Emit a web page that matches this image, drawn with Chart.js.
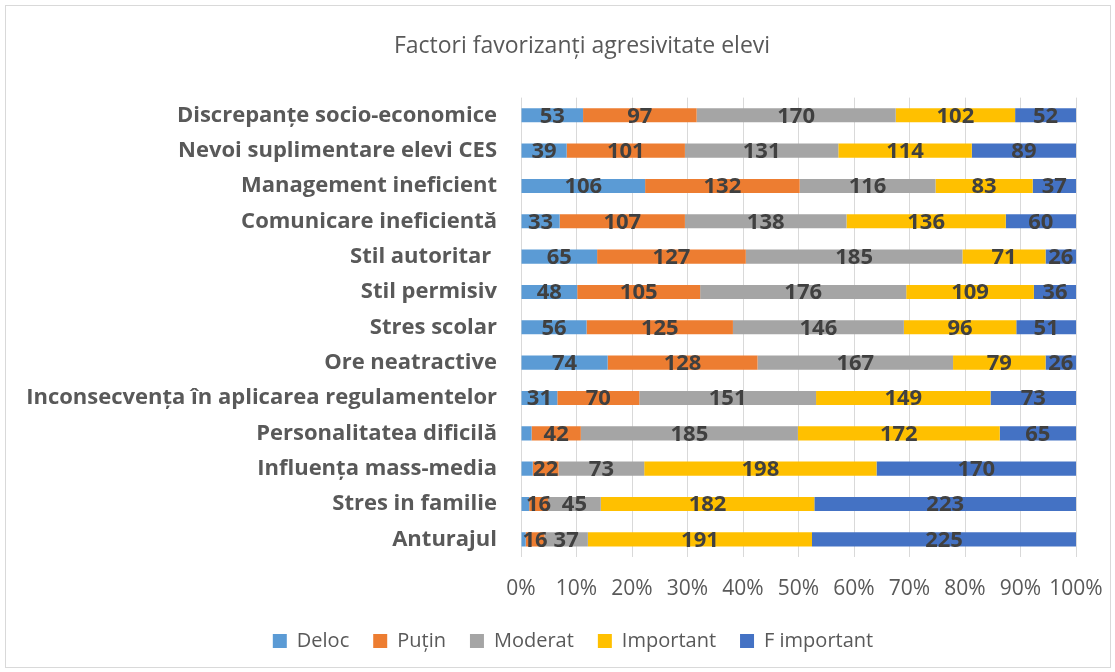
<!DOCTYPE html>
<html>
<head>
<meta charset="utf-8">
<script src="https://cdn.jsdelivr.net/npm/chart.js@4"></script>
<style>
	html, body { margin: 0; padding: 0; background: #fff; }
	#wrap { position: relative; width: 1115px; height: 672px; }
	#frame { position: absolute; left: 5px; top: 5px; width: 1104px; height: 661px; border: 1px solid #d9d9d9; pointer-events: none; }
</style>
</head>
<body>
<div id="wrap">
	<canvas id="factorsChart" width="1115" height="672"></canvas>
	<div id="frame"></div>
</div>
<script>
"use-strict";

const CHART_TITLE = 'Factori favorizanți agresivitate elevi';
const TICK_LABELS = ['0%', '10%', '20%', '30%', '40%', '50%', '60%', '70%', '80%', '90%', '100%'];

const categories = [
	'Discrepanțe socio-economice',
	'Nevoi suplimentare elevi CES',
	'Management ineficient',
	'Comunicare ineficientă',
	'Stil autoritar ',
	'Stil permisiv',
	'Stres scolar',
	'Ore neatractive',
	'Inconsecvența în aplicarea regulamentelor',
	'Personalitatea dificilă',
	'Influența mass-media',
	'Stres in familie',
	'Anturajul'
];

const seriesNames = ['Deloc', 'Puțin', 'Moderat', 'Important', 'F important'];
const seriesColors = ['#5b9bd5', '#ed7d31', '#a5a5a5', '#ffc000', '#4472c4'];

// raw answer counts per category (top to bottom)
const deloc = [53, 39, 106, 33, 65, 48, 56, 74, 31, 9, 10, 7, 4];
const putin = [97, 101, 132, 107, 127, 105, 125, 128, 70, 42, 22, 16, 16];
const moderat = [170, 131, 116, 138, 185, 176, 146, 167, 151, 185, 73, 45, 37];
const important = [102, 114, 83, 136, 71, 109, 96, 79, 149, 172, 198, 182, 191];
const fImportant = [52, 89, 37, 60, 26, 36, 51, 26, 73, 65, 170, 223, 225];

const seriesValues = [deloc, putin, moderat, important, fImportant];
const rowTotals = categories.map((c, i) => seriesValues.reduce((sum, s) => sum + s[i], 0));

// small Deloc slices have no label in the original
const LABEL_MIN = 12;

// value written in the middle of each segment
const barLabels = {
	id: 'barLabels',
	afterDatasetsDraw: (chart) => {
		const ctx = chart.ctx;
		ctx.save();
		ctx.font = 'bold 22px "Open Sans"';
		ctx.fillStyle = '#404040';
		ctx.textAlign = 'center';
		ctx.textBaseline = 'middle';
		chart.data.datasets.forEach((ds, di) => {
			const meta = chart.getDatasetMeta(di);
			meta.data.forEach((bar, i) => {
				const raw = ds.raw[i];
				if(raw < LABEL_MIN) return;
				ctx.fillText(String(raw), (bar.x + bar.base) / 2, bar.y + 1);
			});
		});
		ctx.restore();
	}
};

// title and legend sit a bit right of the canvas centre in the original
const shiftBoxes = {
	id: 'shiftBoxes',
	afterLayout: (chart) => {
		const moves = [[chart.titleBlock, 39], [chart.legend, 30]];
		moves.forEach(([box, dx]) => {
			if(!box) return;
			box.left += dx;
			box.right += dx;
		});
	}
};

const ctxFactors = document.getElementById('factorsChart');
new Chart(ctxFactors, {
	type: 'bar',
	data: {
		labels: categories,
		datasets: seriesNames.map((name, si) => ({
			label: name,
			data: seriesValues[si].map((v, i) => v / rowTotals[i] * 100),
			raw: seriesValues[si],
			backgroundColor: seriesColors[si],
			borderWidth: 0,
			barPercentage: 1,
			categoryPercentage: 0.4
		}))
	},
	options: {
		indexAxis: 'y',
		responsive: false,
		animation: false,
		layout: { padding: { left: 10, right: 39, top: 0, bottom: 11 } },
		scales: {
			x: {
				stacked: true,
				min: 0,
				max: 100,
				ticks: {
					stepSize: 10,
					padding: 19,
					autoSkip: false,
					minRotation: 0,
					maxRotation: 0,
					color: '#595959',
					font: { family: 'Open Sans', size: 21 },
					callback: (v, i) => TICK_LABELS[i]
				},
				grid: { color: '#d9d9d9', drawTicks: false },
				border: { display: false },
				afterFit: (scale) => {
					scale.height = 50;
					scale.paddingLeft = 0;
					scale.paddingRight = 0;
				}
			},
			y: {
				stacked: true,
				ticks: {
					padding: 24,
					color: '#595959',
					font: { family: 'Open Sans', size: 22, weight: 'bold' }
				},
				grid: { display: false, drawTicks: false },
				border: { display: false },
				afterFit: (scale) => { scale.width = 511; }
			}
		},
		plugins: {
			title: {
				display: true,
				text: CHART_TITLE,
				color: '#595959',
				font: { family: 'Open Sans', size: 23, weight: 'normal' },
				padding: { top: 33, bottom: 37 }
			},
			legend: {
				position: 'bottom',
				labels: {
					boxWidth: 14,
					boxHeight: 14,
					padding: 24,
					color: '#595959',
					font: { family: 'Open Sans', size: 20 }
				}
			},
			tooltip: { enabled: false }
		}
	},
	plugins: [barLabels, shiftBoxes]
});
</script>
</body>
</html>
